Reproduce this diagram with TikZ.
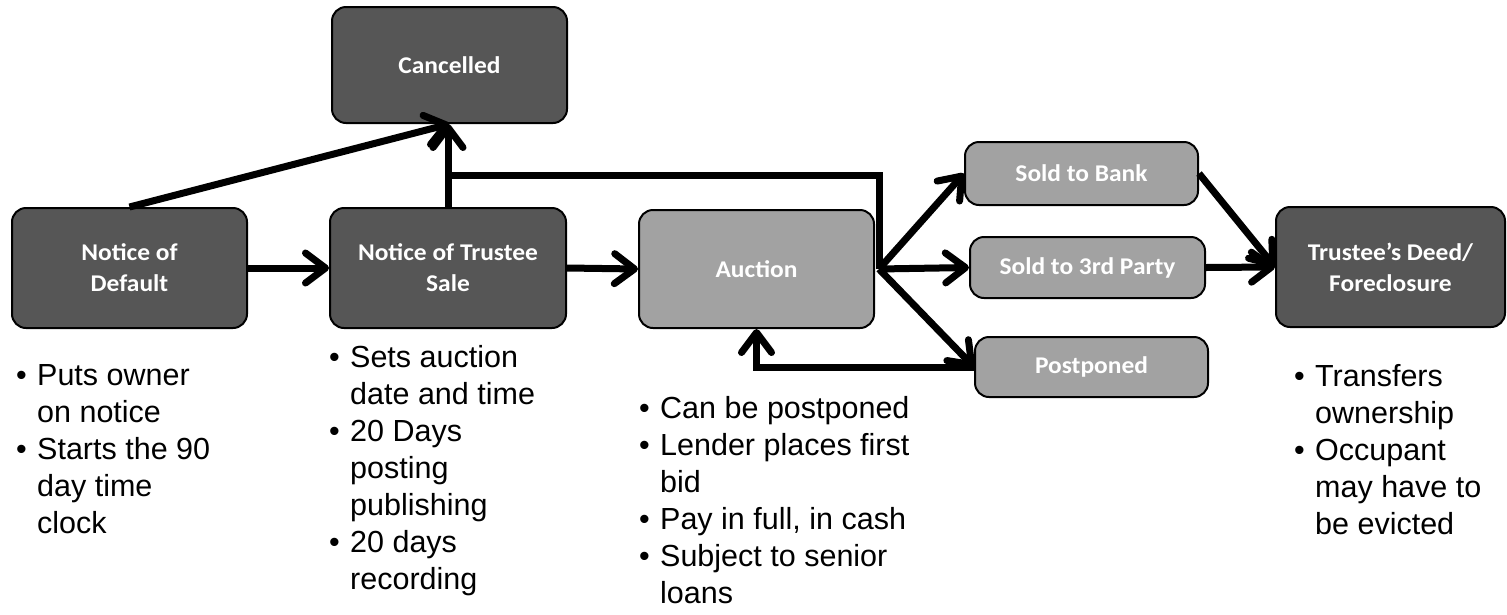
\documentclass[tikz,border=0pt]{standalone}
\usepackage{fontspec}
\setmainfont{Liberation Sans}
\newfontfamily\boxfont{Carlito}[FakeStretch=1.06]
\usetikzlibrary{arrows.meta}
\definecolor{darkbox}{HTML}{565656}
\definecolor{lightbox}{HTML}{A2A2A2}
\tikzset{
  box/.style={draw=black, line width=2pt, rounded corners=14pt, inner sep=0pt,
    align=center, text=white, font=\boxfont\bfseries\fontsize{24}{31}\selectfont},
  darkstep/.style={box, fill=darkbox},
  lightstep/.style={box, fill=lightbox},
  conn/.style={line width=7pt, line join=miter},
  arr/.style={conn, -{Straight Barb[length=20pt,width=30pt,line width=7pt,round]}},
  notes/.style={anchor=north west, inner sep=0pt, align=left,
    font=\fontsize{30.5}{37}\selectfont},
}
\newcommand{\bl}{\makebox[21pt][l]{\textbullet}}
\newcommand{\ind}{\hspace*{21pt}}
\begin{document}
\begin{tikzpicture}[x=1pt,y=-1pt]
\useasboundingbox (0,0) rectangle (1507,614);

% boxes
\node[darkstep, minimum width=235pt, minimum height=116pt] (can) at (449.5,65) {Cancelled};
\node[darkstep, minimum width=235pt, minimum height=120pt] (nod) at (129.5,268) {Notice of\\Default};
\node[darkstep, minimum width=236pt, minimum height=120pt] (nts) at (448,268) {Notice of Trustee\\Sale};
\node[lightstep, minimum width=235pt, minimum height=118pt] (auc) at (756.5,269) {Auction};
\node[lightstep, minimum width=233pt, minimum height=63pt] (sb) at (1081.5,173.5) {Sold to Bank};
\node[lightstep, minimum width=235pt, minimum height=61pt] (s3) at (1087.5,267.5) {Sold to 3rd Party};
\node[lightstep, minimum width=233pt, minimum height=60pt] (pp) at (1091.5,367) {Postponed};
\node[darkstep, minimum width=229pt, minimum height=120pt] (td) at (1390.5,267) {Trustee’s Deed/\\Foreclosure};

% notes
\node[notes] (nodn) at (16,364) {\bl Puts owner\\\ind on notice\\\bl Starts the 90\\\ind day time\\\ind clock};
\node[notes] (ntsn) at (329,345) {\bl Sets auction\\\ind date and time\\\bl 20 Days\\\ind posting\\\ind publishing\\\bl 20 days\\\ind recording};
\node[notes] (aucn) at (639,396) {\bl Can be postponed\\\bl Lender places first\\\ind bid\\\bl Pay in full, in cash\\\bl Subject to senior\\\ind loans};
\node[notes] (tdn) at (1294,364) {\bl Transfers\\\ind ownership\\\bl Occupant\\\ind may have to\\\ind be evicted};

% connectors
\coordinate (fan) at ([xshift=4pt]auc.east);
\coordinate (j) at (448,175);
\draw[arr] (nod.north) -- (can.south);
\draw[arr] (nts.north) -- (nts.north |- can.south);
\draw[conn] (fan) -- (fan |- j) -- (nts.north |- j);
\draw[arr] (nod.east) -- (nts.west);
\draw[arr] (nts.east) -- (auc.west);
\draw[arr] (fan) -- (sb.west);
\draw[arr] (fan) -- (s3.west);
\draw[arr] (fan) -- (pp.west);
\draw[arr] (pp.west) -| (auc.south);
\draw[arr] (sb.east) -- (td.west);
\draw[arr] (s3.east) -- (td.west);
\end{tikzpicture}
\end{document}
